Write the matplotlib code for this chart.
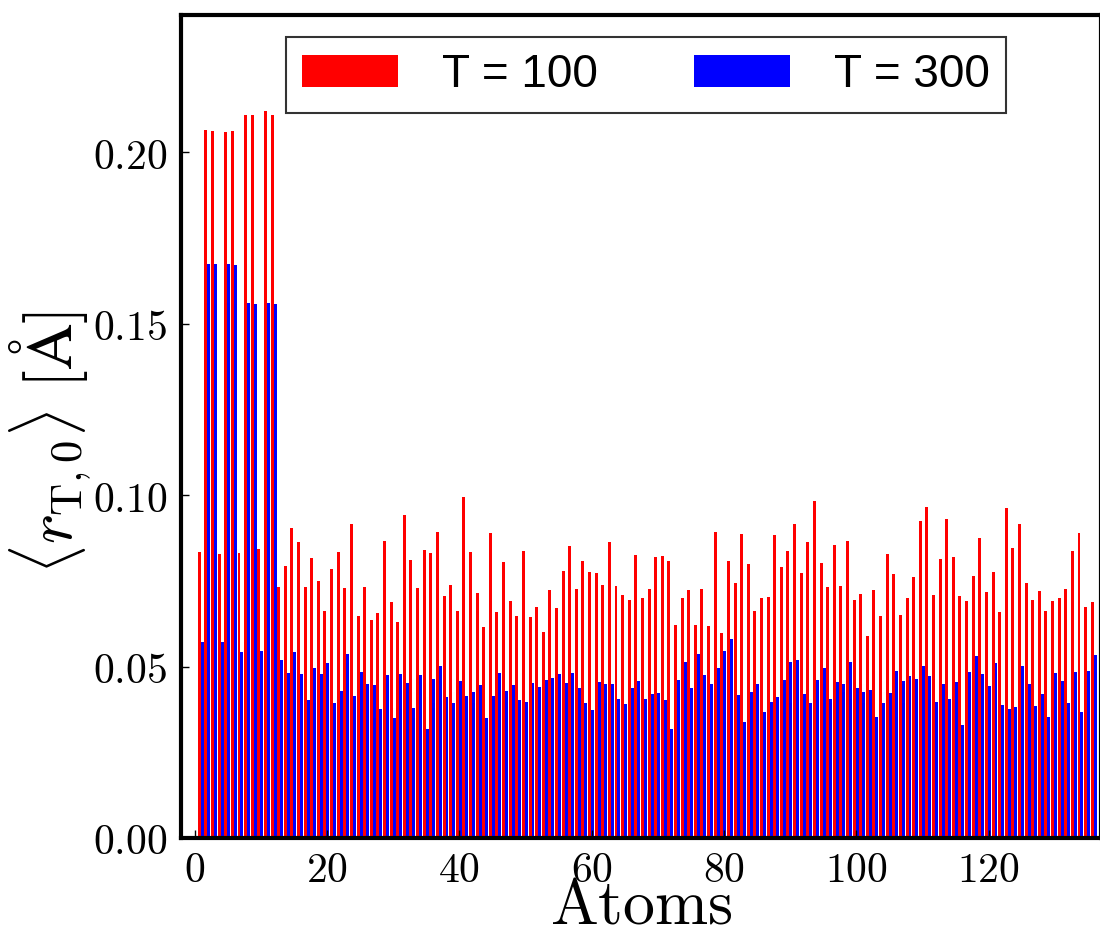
import numpy as np
import matplotlib
matplotlib.use("Agg")
import matplotlib.pyplot as plt
from matplotlib.ticker import FuncFormatter

plt.rcParams['mathtext.fontset'] = 'cm'
plt.rcParams['font.family'] = 'DejaVu Serif'

# mean displacement per atom
r_T100 = [0.0834, 0.2064, 0.2061, 0.0827, 0.2058, 0.2061, 0.0830, 0.2108, 0.2108, 0.0842,
          0.2120, 0.2108, 0.0731, 0.0792, 0.0904, 0.0863, 0.0731, 0.0816, 0.0749, 0.0661,
          0.0784, 0.0833, 0.0728, 0.0915, 0.0646, 0.0731, 0.0637, 0.0655, 0.0865, 0.0687,
          0.0629, 0.0942, 0.0810, 0.0728, 0.0839, 0.0830, 0.0892, 0.0705, 0.0737, 0.0661,
          0.0994, 0.0833, 0.0713, 0.0614, 0.0889, 0.0658, 0.0804, 0.0690, 0.0646, 0.0836,
          0.0643, 0.0675, 0.0602, 0.0722, 0.0670, 0.0778, 0.0851, 0.0725, 0.0807, 0.0775,
          0.0772, 0.0737, 0.0863, 0.0734, 0.0708, 0.0693, 0.0825, 0.0699, 0.0725, 0.0819,
          0.0822, 0.0807, 0.0620, 0.0699, 0.0722, 0.0620, 0.0725, 0.0617, 0.0892, 0.0599,
          0.0807, 0.0743, 0.0886, 0.0798, 0.0661, 0.0699, 0.0702, 0.0883, 0.0789, 0.0836,
          0.0915, 0.0772, 0.0863, 0.0982, 0.0801, 0.0731, 0.0854, 0.0734, 0.0865, 0.0693,
          0.0711, 0.0588, 0.0722, 0.0646, 0.0827, 0.0769, 0.0649, 0.0699, 0.0760, 0.0924,
          0.0965, 0.0708, 0.0813, 0.0930, 0.0819, 0.0705, 0.0690, 0.0763, 0.0874, 0.0716,
          0.0775, 0.0658, 0.0962, 0.0845, 0.0915, 0.0743, 0.0693, 0.0719, 0.0661, 0.0690,
          0.0699, 0.0725, 0.0836, 0.0889, 0.0675, 0.0687]

r_T300 = [0.0573, 0.1675, 0.1673, 0.0573, 0.1675, 0.1670, 0.0541, 0.1560, 0.1558, 0.0544,
          0.1560, 0.1558, 0.0518, 0.0482, 0.0541, 0.0477, 0.0401, 0.0497, 0.0477, 0.0509,
          0.0395, 0.0430, 0.0538, 0.0415, 0.0485, 0.0450, 0.0447, 0.0377, 0.0474, 0.0351,
          0.0477, 0.0453, 0.0380, 0.0474, 0.0319, 0.0465, 0.0503, 0.0412, 0.0395, 0.0459,
          0.0415, 0.0427, 0.0447, 0.0351, 0.0415, 0.0480, 0.0430, 0.0447, 0.0401, 0.0398,
          0.0453, 0.0439, 0.0462, 0.0468, 0.0477, 0.0453, 0.0482, 0.0436, 0.0395, 0.0374,
          0.0456, 0.0450, 0.0450, 0.0406, 0.0392, 0.0436, 0.0459, 0.0404, 0.0421, 0.0424,
          0.0401, 0.0319, 0.0462, 0.0512, 0.0436, 0.0538, 0.0474, 0.0450, 0.0497, 0.0544,
          0.0579, 0.0418, 0.0339, 0.0427, 0.0450, 0.0368, 0.0398, 0.0412, 0.0462, 0.0512,
          0.0520, 0.0421, 0.0395, 0.0462, 0.0497, 0.0406, 0.0456, 0.0450, 0.0512, 0.0436,
          0.0427, 0.0433, 0.0354, 0.0395, 0.0424, 0.0488, 0.0459, 0.0471, 0.0465, 0.0503,
          0.0471, 0.0398, 0.0450, 0.0404, 0.0456, 0.0330, 0.0485, 0.0532, 0.0477, 0.0442,
          0.0509, 0.0389, 0.0377, 0.0383, 0.0503, 0.0450, 0.0386, 0.0421, 0.0354, 0.0482,
          0.0459, 0.0395, 0.0485, 0.0368, 0.0488, 0.0535]

atoms = np.arange(1, len(r_T100) + 1)
labels = ['T = 100', 'T = 300']

fig = plt.figure(figsize=(11, 9.31), dpi=100)
ax = fig.add_axes([0.1645, 0.0999, 0.8364, 0.884])

w = 0.45
ax.bar(atoms - 0.55, r_T100, width=w, align='edge', color='red', linewidth=0, label=labels[0])
ax.bar(atoms - 0.10, r_T300, width=w, align='edge', color='blue', linewidth=0, label=labels[1])

ax.set_xlim(-2.1, 137)
ax.set_ylim(0, 0.24)
ax.set_xticks([0, 20, 40, 60, 80, 100, 120])
ax.set_yticks([0.0, 0.05, 0.10, 0.15, 0.20])
ax.xaxis.set_major_formatter(FuncFormatter(lambda v, p: r'$%d$' % v))
ax.yaxis.set_major_formatter(FuncFormatter(lambda v, p: r'$%.2f$' % v))
ax.tick_params(direction='in', length=6, width=1, labelsize=30, pad=8)
ax.tick_params(axis='y', pad=10)

for s in ax.spines.values():
    s.set_linewidth(3)

ax.set_xlabel(r'$\mathrm{Atoms}$', fontsize=46, labelpad=-11)
ax.set_ylabel(r'$\langle r_{\mathrm{T},0}\rangle\ [\mathrm{\AA}]$', fontsize=46)
ax.yaxis.set_label_coords(-0.094, 0.48)

leg = ax.legend(loc='upper center', bbox_to_anchor=(0.587, 0.960), bbox_transform=fig.transFigure,
                ncol=2, prop={'family': 'Liberation Sans', 'size': 33}, frameon=True,
                fancybox=False, borderaxespad=0, borderpad=0.35,
                handlelength=2.1, handleheight=0.7, handletextpad=0.95, columnspacing=2.1)
leg.get_frame().set_edgecolor('black')
leg.get_frame().set_linewidth(1.5)

fig.savefig("out.png", dpi=100)
